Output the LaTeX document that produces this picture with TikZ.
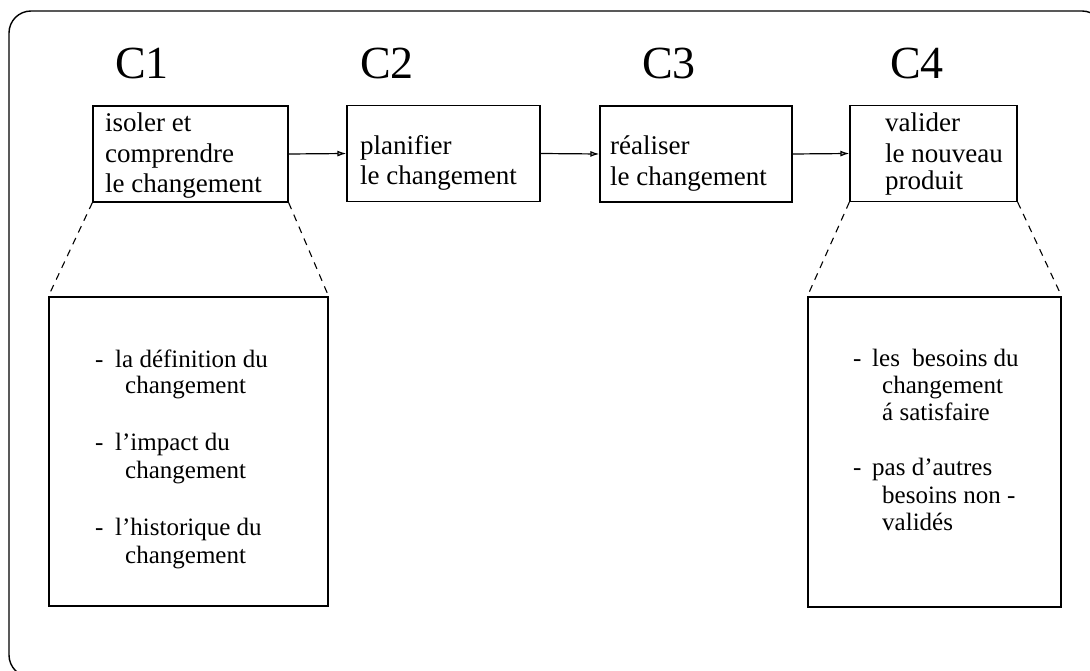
\documentclass[tikz,border=0pt]{standalone}
\usepackage{fontspec}
\setmainfont{Liberation Serif}
\usetikzlibrary{arrows.meta}
\begin{document}
\begin{tikzpicture}[x=1pt,y=-1pt,
  stagebox/.style={draw,line width=1.3pt,inner sep=0pt,minimum height=96pt},
  detailbox/.style={draw,line width=1.3pt,inner sep=0pt},
  steptext/.style={anchor=base west,inner sep=0pt,font=\fontsize{27}{31}\selectfont},
  itemtext/.style={anchor=base west,inner sep=0pt,font=\fontsize{25}{28}\selectfont},
  stagelabel/.style={anchor=base west,inner sep=0pt,font=\fontsize{46}{50}\selectfont},
  flow/.style={line width=1.2pt,-{Latex[length=9pt,width=6pt,fill=gray!60]}},
  zoomline/.style={line width=1.1pt,dash pattern=on 7pt off 6pt},
  frame/.style={draw,line width=1.4pt,rounded corners=22pt}]
\useasboundingbox (0,0) rectangle (1090,671);

% outer frame
\draw[frame] (9,11) rectangle (1104,677);

% stage labels
\node[stagelabel] (l1) at (115,79) {C1};
\node[stagelabel] (l2) at (360,79) {C2};
\node[stagelabel] (l3) at (642,79) {C3};
\node[stagelabel] (l4) at (890,79) {C4};

% stage boxes
\node[stagebox,minimum width=195pt] (c1) at (190.5,154) {};
\node[stagebox,minimum width=193pt] (c2) at (443.5,153.5) {};
\node[stagebox,minimum width=192pt] (c3) at (696,154) {};
\node[stagebox,minimum width=167pt] (c4) at (933.5,153.5) {};

% stage texts
\node[steptext] (t1a) at (105,132) {isoler et};
\node[steptext] (t1b) at (105,163) {comprendre};
\node[steptext] (t1c) at (105,193) {le changement};
\node[steptext] (t2a) at (360,155) {planifier};
\node[steptext] (t2b) at (360,185) {le changement};
\node[steptext] (t3a) at (610,155) {réaliser};
\node[steptext] (t3b) at (610,186) {le changement};
\node[steptext] (t4a) at (885,132) {valider};
\node[steptext] (t4b) at (885,163) {le nouveau};
\node[steptext] (t4c) at (885,190) {produit};

% flow between stages
\draw[flow] (c1.east) -- (c2.west);
\draw[flow] (c2.east) -- (c3.west);
\draw[flow] (c3.east) -- (c4.west);

% detail boxes
\node[detailbox,minimum width=279pt,minimum height=309pt] (d1) at (188.5,451.5) {};
\node[detailbox,minimum width=253pt,minimum height=310pt] (d4) at (934.5,452) {};

% zoom lines
\draw[zoomline] (c1.south west) -- (d1.north west);
\draw[zoomline] (c1.south east) -- (d1.north east);
\draw[zoomline] (c4.south west) -- (d4.north west);
\draw[zoomline] (c4.south east) -- (d4.north east);

% details of C1
\node[itemtext] (a1) at (95,367) {-};
\node[itemtext] (a1t) at (115,367) {la définition du};
\node[itemtext] (a1u) at (125,393) {changement};
\node[itemtext] (a2) at (95,450) {-};
\node[itemtext] (a2t) at (115,450) {l’impact du};
\node[itemtext] (a2u) at (125,478) {changement};
\node[itemtext] (a3) at (95,535) {-};
\node[itemtext] (a3t) at (115,535) {l’historique du};
\node[itemtext] (a3u) at (125,563) {changement};

% details of C4
\node[itemtext] (b1) at (853,366) {-};
\node[itemtext] (b1t) at (872,366) {les\ \ besoins du};
\node[itemtext] (b1u) at (882,393) {changement};
\node[itemtext] (b1v) at (882,420) {á satisfaire};
\node[itemtext] (b2) at (853,475) {-};
\node[itemtext] (b2t) at (872,475) {pas d’autres};
\node[itemtext] (b2u) at (882,503) {besoins non -};
\node[itemtext] (b2v) at (882,530) {validés};
\end{tikzpicture}
\end{document}
